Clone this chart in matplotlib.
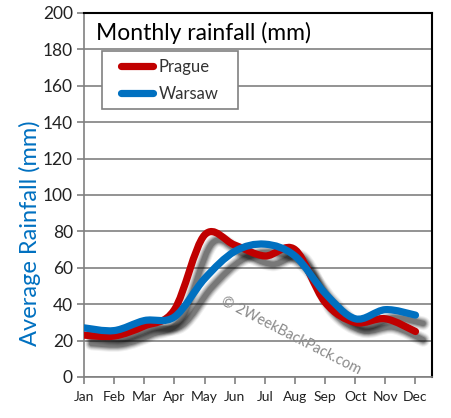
import matplotlib
matplotlib.use("Agg")
import matplotlib.pyplot as plt
import matplotlib.patheffects as pe
from matplotlib.path import Path
from matplotlib.patches import PathPatch, Rectangle
from matplotlib.lines import Line2D

# Data (mm)
months = ["Jan", "Feb", "Mar", "Apr", "May", "Jun",
          "Jul", "Aug", "Sep", "Oct", "Nov", "Dec"]
prague = [23, 22.5, 28, 37, 78, 72.5, 66.5, 70, 41, 30, 32, 25]
warsaw = [27, 25.5, 31, 33, 54, 69, 73, 66.5, 46, 32, 37, 34]
y_ticks = list(range(0, 201, 20))

RED = "#c00000"
BLUE = "#0070c0"
FONT = ["Lato", "DejaVu Sans"]


def smooth_path(xs, ys):
    # Catmull-Rom segments expressed as cubic Bezier curves
    pts = list(zip(xs, ys))
    verts = [pts[0]]
    codes = [Path.MOVETO]
    n = len(pts)
    for i in range(n - 1):
        p0 = pts[max(i - 1, 0)]
        p1 = pts[i]
        p2 = pts[i + 1]
        p3 = pts[min(i + 2, n - 1)]
        c1 = (p1[0] + (p2[0] - p0[0]) / 6, p1[1] + (p2[1] - p0[1]) / 6)
        c2 = (p2[0] - (p3[0] - p1[0]) / 6, p2[1] - (p3[1] - p1[1]) / 6)
        verts += [c1, c2, p2]
        codes += [Path.CURVE4] * 3
    return Path(verts, codes)


fig = plt.figure(figsize=(4.51, 4.18), dpi=100)
ax = fig.add_axes([0.1863, 0.0981, 0.7717, 0.8708])

x = list(range(len(months)))

# soft drop shadows first, below both lines
shadow = []
for lw, a in [(10, 0.06), (8.5, 0.09), (7, 0.13), (5.5, 0.18), (4, 0.22)]:
    shadow.append(pe.SimpleLineShadow(offset=(5.5, -6), shadow_color="black",
                                      alpha=a, linewidth=lw))
for series in (prague, warsaw):
    sp = PathPatch(smooth_path(x, series), fill=False, lw=5, capstyle="round",
                   joinstyle="round", edgecolor="none", zorder=2)
    sp.set_path_effects(shadow)
    ax.add_patch(sp)

for series, col in ((prague, RED), (warsaw, BLUE)):
    ax.add_patch(PathPatch(smooth_path(x, series), fill=False, lw=5.2,
                           edgecolor=col, capstyle="round", joinstyle="round",
                           zorder=3))

ax.set_xlim(0, 11.55)
ax.set_ylim(0, 200)
ax.set_xticks(x)
ax.set_xticklabels(months, fontsize=10, color="#333333", family=FONT)
ax.set_yticks(y_ticks)
ax.set_yticklabels([str(v) for v in y_ticks], fontsize=12.5, family=FONT)
ax.tick_params(axis="both", colors="#808080", length=5, width=1.2, labelcolor="#222222")
ax.tick_params(axis="x", pad=5)
ax.tick_params(axis="y", pad=3)

ax.yaxis.grid(True, color="#808080", lw=1.2)
ax.set_axisbelow(True)
for side in ("left", "bottom"):
    ax.spines[side].set_color("#808080")
    ax.spines[side].set_linewidth(1.2)
for side in ("top", "right"):
    ax.spines[side].set_color("black")
    ax.spines[side].set_linewidth(1.5)

ax.set_ylabel("Average Rainfall (mm)", fontsize=17, color=BLUE, family=FONT)
ax.yaxis.set_label_coords(-0.125, 0.395)

ax.text(0.035, 0.945, "Monthly rainfall (mm)", transform=ax.transAxes,
        fontsize=16.5, family=FONT, va="center", ha="left", color="black")

ax.text(0.595, 0.115, "\u00a9 2WeekBackPack.com", transform=ax.transAxes,
        fontsize=10.5, color="#8a8a8a", rotation=-27, ha="center", va="center",
        family=FONT, zorder=4)

# legend box (frame drawn separately to get the wide inner padding)
ax.add_patch(Rectangle((0.052, 0.736), 0.39, 0.16, transform=ax.transAxes,
                       facecolor="white", edgecolor="#808080", lw=1.2, zorder=5))
handles = [Line2D([], [], color=RED, lw=5.2, solid_capstyle="round"),
           Line2D([], [], color=BLUE, lw=5.2, solid_capstyle="round")]
leg = ax.legend(handles, ["Prague", "Warsaw"], loc="upper left",
                bbox_to_anchor=(0.105, 0.873), frameon=False, borderpad=0,
                handlelength=1.95, handletextpad=0.35, labelspacing=0.65,
                prop={"family": FONT, "size": 12}, borderaxespad=0)
leg.set_zorder(6)
for t in leg.get_texts():
    t.set_color("#333333")

fig.savefig("out.png", dpi=100)
